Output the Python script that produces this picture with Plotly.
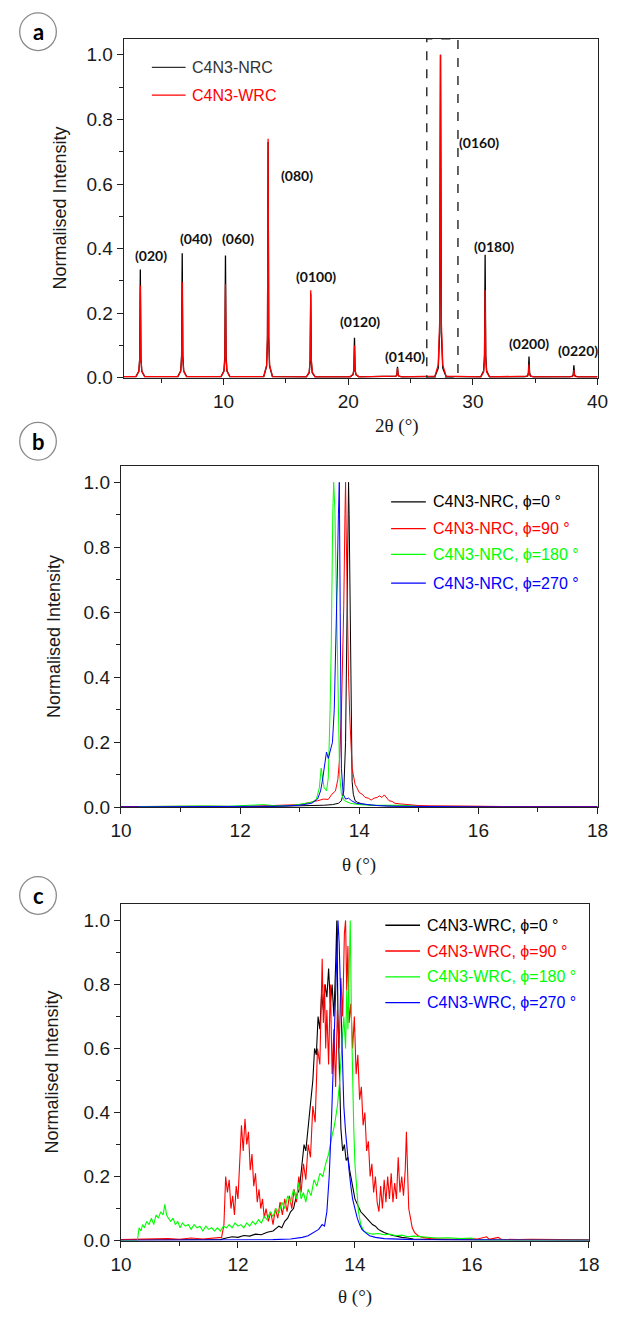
import plotly.graph_objects as go

W, H = 624, 1320

# ---------------- Panel a data (2theta scan) ----------------
a_x = [2.0,
       2.97, 3.20, 3.27, 3.32, 3.37, 3.44, 3.67,
       6.33, 6.56, 6.63, 6.68, 6.73, 6.80, 7.03,
       9.80, 10.03, 10.10, 10.15, 10.20, 10.27, 10.50,
       13.22, 13.45, 13.52, 13.57, 13.62, 13.69, 13.92,
       16.64, 16.87, 16.94, 16.99, 17.04, 17.11, 17.34,
       20.15, 20.38, 20.45, 20.50, 20.55, 20.62, 20.85,
       23.60, 23.83, 23.90, 23.95, 24.00, 24.07, 24.30,
       26.95, 27.22, 27.33, 27.40, 27.47, 27.58, 27.85,
       30.63, 30.86, 30.93, 30.98, 31.03, 31.10, 31.33,
       34.15, 34.38, 34.45, 34.50, 34.55, 34.62, 34.85,
       37.75, 37.98, 38.05, 38.10, 38.15, 38.22, 38.45,
       40.0]
a_nrc = [0.004,
         0.004, 0.02, 0.06, 0.335, 0.06, 0.02, 0.004,
         0.004, 0.022, 0.07, 0.386, 0.07, 0.022, 0.004,
         0.004, 0.022, 0.068, 0.379, 0.068, 0.022, 0.004,
         0.004, 0.035, 0.12, 0.73, 0.12, 0.035, 0.004,
         0.003, 0.016, 0.05, 0.26, 0.05, 0.016, 0.003,
         0.003, 0.01, 0.025, 0.124, 0.025, 0.01, 0.003,
         0.003, 0.005, 0.01, 0.034, 0.01, 0.005, 0.003,
         0.004, 0.03, 0.14, 1.0, 0.14, 0.03, 0.004,
         0.003, 0.022, 0.07, 0.381, 0.07, 0.022, 0.003,
         0.003, 0.006, 0.015, 0.066, 0.015, 0.006, 0.003,
         0.003, 0.005, 0.01, 0.039, 0.01, 0.005, 0.003,
         0.003]
a_wrc = [0.004,
         0.004, 0.02, 0.055, 0.286, 0.055, 0.02, 0.004,
         0.004, 0.02, 0.055, 0.297, 0.055, 0.02, 0.004,
         0.004, 0.02, 0.055, 0.29, 0.055, 0.02, 0.004,
         0.004, 0.04, 0.13, 0.74, 0.13, 0.04, 0.004,
         0.003, 0.018, 0.055, 0.271, 0.055, 0.018, 0.003,
         0.003, 0.01, 0.022, 0.10, 0.022, 0.01, 0.003,
         0.003, 0.005, 0.009, 0.03, 0.009, 0.005, 0.003,
         0.005, 0.04, 0.17, 1.0, 0.17, 0.04, 0.005,
         0.003, 0.018, 0.055, 0.272, 0.055, 0.018, 0.003,
         0.003, 0.005, 0.011, 0.042, 0.011, 0.005, 0.003,
         0.003, 0.004, 0.007, 0.024, 0.007, 0.004, 0.003,
         0.003]
peak_labels = ["(020)", "(040)", "(060)", "(080)", "(0100)", "(0120)",
               "(0140)", "(0160)", "(0180)", "(0200)", "(0220)"]
peak_label_x = [4.2, 7.75, 11.16, 15.9, 17.44, 20.93, 24.57, 30.47, 31.7, 34.5, 38.45]
peak_label_y = [0.38, 0.43, 0.43, 0.626, 0.313, 0.175, 0.067, 0.73, 0.408, 0.107, 0.086]
box_x = [26.3, 28.8]

# ---------------- Panel b data (NRC rocking curves) ----------------
b0_x = [10.0, 11.0, 12.0, 12.5, 12.9, 13.2, 13.4, 13.55, 13.65, 13.7, 13.74, 13.77, 13.79,
        13.81, 13.82, 13.83, 13.845, 13.86, 13.88, 13.9, 13.93, 13.97, 14.05, 14.2, 14.5,
        15.0, 16.0, 17.0, 18.0]
b0_y = [0.001, 0.001, 0.002, 0.002, 0.004, 0.004, 0.006, 0.008, 0.012, 0.02, 0.05, 0.2, 0.54,
        0.85, 1.0, 0.9, 0.6, 0.3, 0.08, 0.04, 0.02, 0.015, 0.01, 0.006, 0.004,
        0.003, 0.002, 0.001, 0.001]
b90_x = [10.0, 10.5, 11.0, 11.5, 12.0, 12.5, 12.8, 13.0, 13.1, 13.2, 13.3, 13.4, 13.48, 13.54,
         13.6, 13.64, 13.67, 13.7, 13.72, 13.74, 13.76, 13.77, 13.78, 13.8, 13.82, 13.84, 13.86,
         13.88, 13.9, 13.93, 13.96, 14.0, 14.05, 14.1, 14.15, 14.2, 14.25, 14.3, 14.34, 14.38,
         14.42, 14.46, 14.5, 14.55, 14.6, 14.7, 14.8, 14.9, 15.0, 15.2, 15.5, 16.0, 16.5, 17.0,
         17.5, 18.0]
b90_y = [0.002, 0.003, 0.002, 0.003, 0.002, 0.004, 0.006, 0.008, 0.012, 0.015, 0.02, 0.025,
         0.024, 0.04, 0.05, 0.085, 0.15, 0.29, 0.45, 0.62, 0.9, 1.0, 0.85, 0.6, 0.4, 0.28, 0.18,
         0.12, 0.1, 0.07, 0.06, 0.045, 0.04, 0.03, 0.028, 0.022, 0.028, 0.03, 0.035, 0.03,
         0.038, 0.03, 0.02, 0.018, 0.012, 0.01, 0.008, 0.006, 0.005, 0.004, 0.003, 0.003, 0.002,
         0.002, 0.002, 0.002]
b180_x = [10.3, 10.6, 11.0, 11.4, 11.8, 12.2, 12.4, 12.6, 12.9, 13.1, 13.2, 13.28, 13.33, 13.36,
          13.38, 13.41, 13.45, 13.48, 13.51, 13.53, 13.555, 13.57, 13.59, 13.61, 13.64, 13.67,
          13.7, 13.75, 13.85, 14.0, 14.2, 14.5, 14.7, 15.0]
b180_y = [0.002, 0.003, 0.003, 0.004, 0.003, 0.005, 0.008, 0.004, 0.006, 0.012, 0.015, 0.025,
          0.06, 0.12, 0.1, 0.06, 0.05, 0.09, 0.3, 0.5, 0.9, 1.0, 0.92, 0.7, 0.35, 0.1,
          0.04, 0.02, 0.012, 0.008, 0.006, 0.005, 0.006, 0.002]
b270_x = [10.0, 11.0, 12.0, 12.6, 13.0, 13.2, 13.3, 13.35, 13.38, 13.42, 13.45, 13.48, 13.52,
          13.55, 13.58, 13.61, 13.63, 13.65, 13.665, 13.68, 13.7, 13.73, 13.77, 13.82, 13.87,
          13.95, 14.1, 14.3, 14.6, 15.0, 16.0, 18.0]
b270_y = [0.001, 0.001, 0.002, 0.003, 0.006, 0.012, 0.025, 0.05, 0.08, 0.13, 0.17, 0.15, 0.18,
          0.2, 0.3, 0.5, 0.7, 0.9, 1.0, 0.6, 0.12, 0.04, 0.025, 0.028, 0.02,
          0.012, 0.008, 0.005, 0.003, 0.002, 0.001, 0.001]

# ---------------- Panel c data (WRC rocking curves) ----------------
c0_x = [10.0, 11.0, 11.7, 11.8, 11.9, 12.0, 12.1, 12.2, 12.3, 12.4, 12.5, 12.6, 12.7, 12.75,
        12.8, 12.85, 12.9, 12.95, 13.0, 13.05, 13.1, 13.13, 13.16, 13.2, 13.24, 13.28, 13.31,
        13.34, 13.37, 13.4, 13.43, 13.46, 13.49, 13.52, 13.55, 13.58, 13.61, 13.64, 13.67,
        13.69, 13.71, 13.73, 13.76, 13.79, 13.82, 13.85, 13.88, 13.91, 13.94, 13.97, 14.0,
        14.05, 14.1, 14.15, 14.2, 14.25, 14.3, 14.35, 14.4, 14.45, 14.5, 14.6, 14.7, 14.8,
        14.9, 15.0, 15.5, 16.0, 18.0]
c0_y = [0.002, 0.002, 0.003, 0.008, 0.012, 0.01, 0.016, 0.014, 0.02, 0.018, 0.026, 0.03, 0.045,
        0.04, 0.06, 0.07, 0.09, 0.1, 0.14, 0.16, 0.24, 0.3, 0.28, 0.36, 0.42, 0.5, 0.6,
        0.58, 0.7, 0.66, 0.77, 0.72, 0.8, 0.76, 0.85, 0.74, 0.8, 0.7, 0.86,
        1.0, 0.7, 0.55, 0.35, 0.28, 0.3, 0.25, 0.26, 0.22, 0.19, 0.15, 0.13,
        0.11, 0.09, 0.08, 0.07, 0.06, 0.05, 0.045, 0.035, 0.03, 0.025, 0.018, 0.013, 0.01,
        0.008, 0.005, 0.003, 0.002, 0.002]
c90_x = [10.0, 10.3, 10.5, 10.8, 11.0, 11.2, 11.4, 11.6, 11.72, 11.76, 11.79, 11.82, 11.85,
         11.88, 11.91, 11.94, 11.97, 12.0, 12.03, 12.06, 12.09, 12.12, 12.15, 12.18, 12.21,
         12.24, 12.27, 12.3, 12.33, 12.36, 12.39, 12.42, 12.45, 12.48, 12.52, 12.56, 12.6,
         12.64, 12.68, 12.72, 12.76, 12.8, 12.84, 12.88, 12.92, 12.96, 13.0, 13.04, 13.08,
         13.12, 13.16, 13.2, 13.24, 13.28, 13.32, 13.36, 13.4, 13.42, 13.44, 13.46, 13.48,
         13.5, 13.52, 13.55, 13.58, 13.61, 13.64, 13.67, 13.7, 13.73, 13.76, 13.79, 13.82,
         13.84, 13.86, 13.88, 13.9, 13.93, 13.96, 13.99, 14.02, 14.05, 14.08, 14.11, 14.14,
         14.17, 14.2, 14.23, 14.26, 14.29, 14.32, 14.35, 14.38, 14.41, 14.44, 14.47, 14.5,
         14.53, 14.56, 14.59, 14.62, 14.65, 14.68, 14.71, 14.74, 14.77, 14.8, 14.83, 14.86,
         14.88, 14.9, 14.92, 14.95, 14.98, 15.02, 15.08, 15.15, 15.3, 15.5, 15.7, 15.9, 16.1,
         16.25, 16.3, 16.45, 16.5, 16.8, 17.0, 17.5, 18.0]
c90_y = [0.003, 0.005, 0.004, 0.006, 0.004, 0.008, 0.005, 0.007, 0.01, 0.05, 0.2, 0.15, 0.19,
         0.1, 0.14, 0.08, 0.17, 0.13, 0.24, 0.36, 0.28, 0.38, 0.3, 0.34, 0.22,
         0.27, 0.17, 0.21, 0.12, 0.16, 0.1, 0.13, 0.07, 0.1, 0.06, 0.09, 0.05,
         0.1, 0.07, 0.12, 0.08, 0.13, 0.09, 0.14, 0.1, 0.16, 0.12, 0.2, 0.15,
         0.24, 0.19, 0.3, 0.26, 0.42, 0.37, 0.6, 0.55, 0.75, 0.88, 0.68, 0.8,
         0.6, 0.72, 0.55, 0.8, 0.52, 0.66, 0.48, 0.72, 0.6, 0.82, 0.7, 0.96,
         1.0, 0.78, 0.92, 0.68, 0.74, 0.6, 0.7, 0.52, 0.58, 0.44, 0.48, 0.36,
         0.4, 0.28, 0.31, 0.2, 0.24, 0.15, 0.2, 0.12, 0.09, 0.17, 0.1, 0.19,
         0.12, 0.2, 0.13, 0.21, 0.12, 0.18, 0.13, 0.26, 0.15, 0.2, 0.14, 0.22,
         0.34, 0.2, 0.1, 0.07, 0.04, 0.025, 0.015, 0.01, 0.006, 0.005, 0.004, 0.006, 0.005,
         0.012, 0.004, 0.01, 0.004, 0.003, 0.004, 0.003, 0.002]
c180_x = [10.0, 10.28, 10.31, 10.34, 10.37, 10.4, 10.44, 10.48, 10.52, 10.56, 10.6, 10.64,
          10.68, 10.72, 10.75, 10.78, 10.81, 10.85, 10.89, 10.93, 10.97, 11.01, 11.05, 11.1,
          11.15, 11.2, 11.25, 11.3, 11.35, 11.4, 11.45, 11.5, 11.55, 11.6, 11.65, 11.7, 11.75,
          11.8, 11.85, 11.9, 11.95, 12.0, 12.05, 12.1, 12.15, 12.2, 12.25, 12.3, 12.35, 12.4,
          12.45, 12.5, 12.55, 12.6, 12.65, 12.7, 12.75, 12.8, 12.85, 12.9, 12.95, 13.0, 13.04,
          13.08, 13.12, 13.16, 13.2, 13.25, 13.3, 13.35, 13.4, 13.45, 13.5, 13.55, 13.6, 13.65,
          13.7, 13.74, 13.78, 13.81, 13.84, 13.86, 13.88, 13.9, 13.92, 13.94, 13.96, 13.98,
          14.0, 14.03, 14.06, 14.1, 14.15, 14.2, 14.3, 14.4, 14.5, 14.6, 14.7, 14.8, 14.9,
          15.0, 15.2, 15.4, 15.6, 15.8, 16.0, 16.05, 16.5, 18.0]
c180_y = [0.0, 0.0, 0.04, 0.03, 0.05, 0.04, 0.06, 0.05, 0.07, 0.05, 0.08, 0.07,
          0.09, 0.08, 0.113, 0.08, 0.07, 0.06, 0.07, 0.05, 0.06, 0.04, 0.055, 0.045,
          0.05, 0.035, 0.05, 0.04, 0.045, 0.03, 0.045, 0.035, 0.04, 0.03, 0.04, 0.03, 0.045,
          0.04, 0.05, 0.04, 0.055, 0.045, 0.05, 0.04, 0.055, 0.045, 0.06, 0.05, 0.065, 0.055,
          0.075, 0.065, 0.09, 0.075, 0.1, 0.085, 0.12, 0.1, 0.14, 0.12, 0.16, 0.13, 0.18,
          0.13, 0.15, 0.12, 0.16, 0.14, 0.19, 0.17, 0.21, 0.2, 0.24, 0.27, 0.32, 0.36,
          0.42, 0.5, 0.62, 0.7, 0.6, 0.78, 0.66, 0.85, 1.0, 0.7, 0.5, 0.35,
          0.24, 0.15, 0.09, 0.05, 0.03, 0.025, 0.02, 0.022, 0.018, 0.02, 0.015, 0.017, 0.012,
          0.014, 0.01, 0.008, 0.009, 0.006, 0.008, 0.002, 0.001, 0.001]
c270_x = [10.0, 12.0, 12.6, 12.9, 13.1, 13.2, 13.3, 13.38, 13.44, 13.48, 13.52, 13.56, 13.6,
          13.63, 13.66, 13.69, 13.71, 13.73, 13.75, 13.78, 13.81, 13.84, 13.87, 13.9, 13.93,
          13.96, 14.0, 14.04, 14.08, 14.12, 14.18, 14.25, 14.35, 14.5, 15.0, 16.0, 18.0]
c270_y = [0.001, 0.002, 0.003, 0.005, 0.01, 0.015, 0.025, 0.035, 0.05, 0.045, 0.09, 0.2, 0.38,
          0.55, 0.72, 0.9, 1.0, 0.93, 0.8, 0.6, 0.42, 0.34, 0.27, 0.22, 0.17,
          0.13, 0.1, 0.07, 0.05, 0.035, 0.025, 0.015, 0.01, 0.006, 0.003, 0.002, 0.001]

legend_a = ["C4N3-NRC", "C4N3-WRC"]
legend_b = ["C4N3-NRC, \u03d5=0 \u00b0", "C4N3-NRC, \u03d5=90 \u00b0",
            "C4N3-NRC, \u03d5=180 \u00b0", "C4N3-NRC, \u03d5=270 \u00b0"]
legend_c = ["C4N3-WRC, \u03d5=0 \u00b0", "C4N3-WRC, \u03d5=90 \u00b0",
            "C4N3-WRC, \u03d5=180 \u00b0", "C4N3-WRC, \u03d5=270 \u00b0"]
colors4 = ["#000000", "#ff0000", "#00ff00", "#0000ff"]

SANS = "'Liberation Sans', Arial, sans-serif"
SERIF = "'Liberation Serif', 'Times New Roman', serif"


def px(x):
    return x / W


def py(y):
    return 1 - y / H


fig = go.Figure()

# panel a
fig.add_trace(go.Scatter(x=a_x, y=a_nrc, mode="lines", line=dict(color="#000000", width=1.3),
                         xaxis="x", yaxis="y", showlegend=False))
fig.add_trace(go.Scatter(x=a_x, y=a_wrc, mode="lines", line=dict(color="#ff0000", width=1.3),
                         xaxis="x", yaxis="y", showlegend=False))
# panel b
for xs, ys, col in zip([b0_x, b90_x, b180_x, b270_x], [b0_y, b90_y, b180_y, b270_y], colors4):
    fig.add_trace(go.Scatter(x=xs, y=ys, mode="lines", line=dict(color=col, width=1.0),
                             xaxis="x2", yaxis="y2", showlegend=False))
# panel c
for xs, ys, col in zip([c0_x, c90_x, c180_x, c270_x], [c0_y, c90_y, c180_y, c270_y], colors4):
    fig.add_trace(go.Scatter(x=xs, y=ys, mode="lines", line=dict(color=col, width=1.1),
                             xaxis="x3", yaxis="y3", showlegend=False))

tickfont = dict(family=SANS, size=19, color="#1a1a1a")
ax_common = dict(showline=True, linecolor="#222222", linewidth=1.4, mirror=True,
                 ticks="outside", ticklen=6, tickwidth=1.3, tickcolor="#222222",
                 showgrid=False, zeroline=False, tickfont=tickfont)
minor_common = dict(ticks="outside", ticklen=4, tickwidth=1.2, tickcolor="#222222", showgrid=False)

fig.update_layout(
    width=W, height=H,
    margin=dict(l=0, r=0, t=0, b=0),
    paper_bgcolor="white", plot_bgcolor="white",
    font=dict(family=SANS),
    xaxis=dict(domain=[px(117), px(608)], range=[2, 40], tickvals=[10, 20, 30, 40],
               minor=dict(dtick=5, tick0=0, **minor_common), anchor="y", **ax_common),
    yaxis=dict(domain=[py(381), py(39)], range=[0, 1.05], dtick=0.2, tickformat=".1f",
               minor=dict(dtick=0.1, **minor_common), anchor="x", **ax_common),
    xaxis2=dict(domain=[px(114), px(608)], range=[10, 18], dtick=2,
                minor=dict(dtick=1, **minor_common), anchor="y2", **ax_common),
    yaxis2=dict(domain=[py(814), py(470)], range=[0, 1.05], dtick=0.2, tickformat=".1f",
                minor=dict(dtick=0.1, **minor_common), anchor="x2", **ax_common),
    xaxis3=dict(domain=[px(114), px(599)], range=[10, 18], dtick=2,
                minor=dict(dtick=1, **minor_common), anchor="y3", **ax_common),
    yaxis3=dict(domain=[py(1251), py(912)], range=[0, 1.05], dtick=0.2, tickformat=".1f",
                minor=dict(dtick=0.1, **minor_common), anchor="x3", **ax_common),
)

shapes = []
annotations = []

# dashed box in panel a
shapes.append(dict(type="rect", xref="x", yref="y", x0=box_x[0], x1=box_x[1], y0=0, y1=1.05,
                   line=dict(color="#222222", width=1.4, dash="dash"), fillcolor="rgba(0,0,0,0)"))

# peak labels
for t, lx, ly in zip(peak_labels, peak_label_x, peak_label_y):
    annotations.append(dict(x=lx, y=ly, xref="x", yref="y", text="<b>" + t + "</b>",
                            showarrow=False, font=dict(family="Lato, 'Open Sans', sans-serif",
                                                       size=14, color="#111111")))

# panel letters in circles
for letter, cy in zip(["a", "b", "c"], [32, 445, 903]):
    shapes.append(dict(type="circle", xref="paper", yref="paper",
                       x0=px(9), x1=px(47), y0=py(cy + 19), y1=py(cy - 19),
                       line=dict(color="#8a8a8a", width=1.3), fillcolor="white"))
    annotations.append(dict(x=px(28), y=py(cy), xref="paper", yref="paper",
                            text="<b>" + letter + "</b>", showarrow=False,
                            xanchor="center", yanchor="middle",
                            font=dict(family="Lato, sans-serif", size=22, color="#000000")))

# y-axis titles
for cx, cy in zip([51, 44, 42], [210, 642, 1081]):
    annotations.append(dict(x=px(cx), y=py(cy), xref="paper", yref="paper",
                            text="Normalised Intensity", textangle=-90, showarrow=False,
                            xanchor="center", yanchor="middle",
                            font=dict(family=SANS, size=18, color="#1a1a1a")))

# x-axis titles
for txt, cx, cy in zip(["2\u03b8 (\u00b0)", "\u03b8 (\u00b0)", "\u03b8 (\u00b0)"],
                       [400, 361, 357], [430, 872, 1308]):
    annotations.append(dict(x=px(cx), y=py(cy), xref="paper", yref="paper", text=txt,
                            showarrow=False, xanchor="center", yanchor="middle",
                            font=dict(family=SERIF, size=19, color="#1a1a1a")))


# legends (drawn manually)
def add_legend(labels, cols, ys, lx0, lx1, tx):
    for lab, col, yy in zip(labels, cols, ys):
        shapes.append(dict(type="line", xref="paper", yref="paper", x0=px(lx0), x1=px(lx1),
                           y0=py(yy), y1=py(yy), line=dict(color=col, width=1.3)))
        annotations.append(dict(x=px(tx), y=py(yy), xref="paper", yref="paper", text=lab,
                                showarrow=False, xanchor="left", yanchor="middle",
                                font=dict(family=SANS, size=16, color=col)))


add_legend(legend_a, ["#333333", "#ff0000"], [68, 96], 146, 181, 186)
add_legend(legend_b, colors4, [506, 533, 559, 588], 394, 430, 435)
add_legend(legend_c, colors4, [933, 959, 985, 1011], 388, 424, 429)

fig.update_layout(shapes=shapes, annotations=annotations)

fig.write_html("out.html")
